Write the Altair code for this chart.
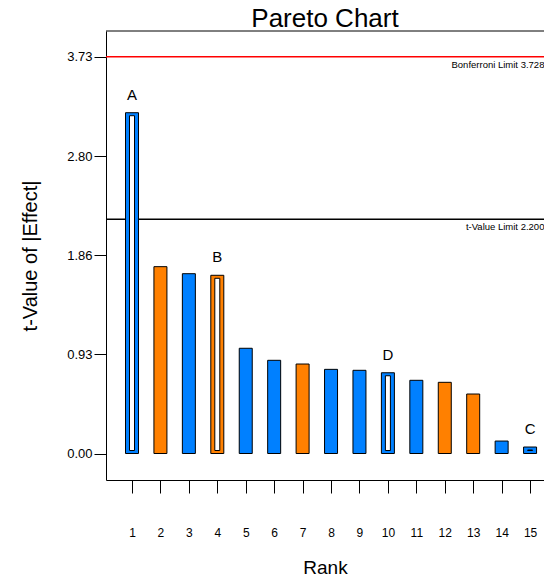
import altair as alt
import pandas as pd

# ---- data ----
ranks = list(range(1, 16))
t_values = [3.203, 1.756, 1.690, 1.675, 0.989, 0.876, 0.841, 0.791, 0.782,
            0.759, 0.688, 0.669, 0.559, 0.117, 0.061]
signs = ["pos", "neg", "pos", "neg", "pos", "pos", "neg", "pos", "pos",
         "pos", "pos", "neg", "neg", "pos", "pos"]
labels = ["A", "", "", "B", "", "", "", "", "", "D", "", "", "", "", "C"]

limit_names = ["Bonferroni Limit 3.72829", "t-Value Limit 2.20099"]
limit_values = [3.72829, 2.20099]
limit_colors = ["#FF0000", "#000000"]

y_ticks = [0.0, 0.932, 1.864, 2.796, 3.728]
x_ticks = ranks

FONT = "Liberation Sans"
W, H = 438, 449

df = pd.DataFrame({"rank": ranks, "t": t_values, "sign": signs, "label": labels})
lims = pd.DataFrame({"name": limit_names, "value": limit_values, "col": limit_colors})

xscale = alt.Scale(domain=[0.0855, 15.49], nice=False, zero=False, padding=0)
yscale = alt.Scale(domain=[-0.249, 3.971], nice=False, zero=False, padding=0)

xaxis = alt.Axis(values=x_ticks, format="d", title="Rank", grid=False,
                 tickSize=13, tickColor="black", domainColor="black",
                 labelOverlap=False, labelFlush=False,
                 labelPadding=34, labelFontSize=12, labelFont=FONT, labelColor="black",
                 titleFont=FONT, titleFontSize=19, titleFontWeight="normal",
                 titleColor="black", titleY=93, titleBaseline="alphabetic")
yaxis = alt.Axis(values=y_ticks, format=".2f", title="t-Value of |Effect|", grid=False,
                 tickSize=12, tickColor="black", domainColor="black",
                 labelOverlap=False, labelFlush=False,
                 labelPadding=2, labelFontSize=13, labelFont=FONT, labelColor="black",
                 titleFont=FONT, titleFontSize=20, titleFontWeight="normal",
                 titleColor="black", titleX=-76, titleY=H / 2, titleAlign="center",
                 titleBaseline="middle", titleAngle=-90)

X = alt.X("rank:Q", scale=xscale, axis=xaxis)
Y = alt.Y("t:Q", scale=yscale, axis=yaxis)
YL = alt.Y("value:Q", scale=yscale, axis=yaxis)

color = alt.Color("sign:N", scale=alt.Scale(domain=["pos", "neg"],
                                            range=["#0080FF", "#FF8000"]), legend=None)

base = alt.Chart(df).encode(x=X, y=Y)

bars = base.mark_bar(size=13, stroke="black", strokeWidth=1).encode(
    y2=alt.datum(0), color=color,
)

inner = base.transform_filter("datum.label != ''").mark_bar(
    size=5, fill="white", stroke="black", strokeWidth=1, yOffset=3, y2Offset=-3
).encode(y2=alt.datum(0))

letters = base.transform_filter("datum.label != ''").mark_text(
    baseline="bottom", dy=-10, fontSize=15, font=FONT, color="black"
).encode(text="label:N")

rules = alt.Chart(lims).mark_rule(strokeWidth=1.5).encode(
    y=YL, color=alt.Color("col:N", scale=None)
)

lim_text = alt.Chart(lims).mark_text(
    align="right", baseline="middle", dy=8, dx=11, fontSize=9.5, font=FONT,
    color="black", clip=True
).encode(x=alt.value(W), y=YL, text="name:N")

top = alt.Chart(lims).transform_filter("datum.col == '#000000'").mark_rule(
    color="black", strokeWidth=1
).encode(x=alt.value(0), x2=alt.value(W), y=alt.value(0))

chart = alt.layer(rules, bars, inner, letters, lim_text, top).properties(
    width=W, height=H,
    title=alt.Title("Pareto Chart", font=FONT, fontSize=26, fontWeight="normal",
                    color="black", anchor="middle", offset=0, dy=1),
    autosize=alt.AutoSizeParams(type="none"),
    padding={"left": 98, "top": 23, "right": 0, "bottom": 94},
).configure_view(stroke=None).configure_axisX(labelOverlap=False)

chart.save("out.html", embed_options={"renderer": "svg", "actions": False})
